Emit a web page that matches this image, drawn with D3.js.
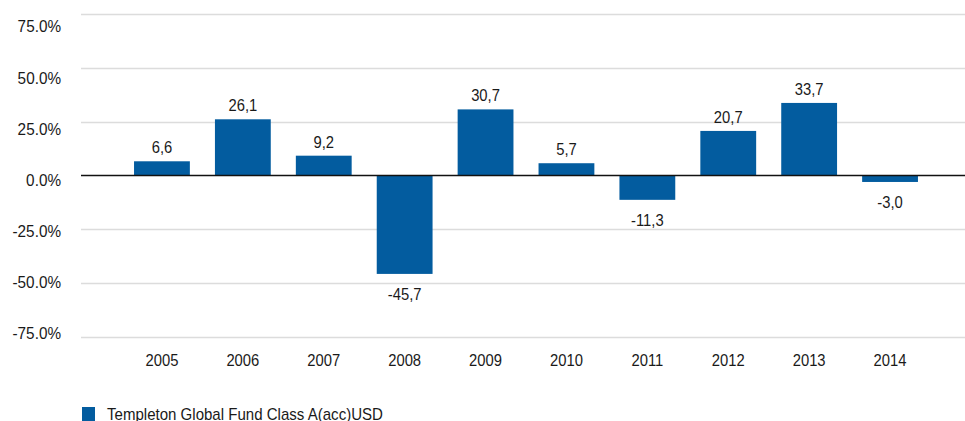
<!DOCTYPE html>
<html><head><meta charset="utf-8">
<script src="https://cdn.jsdelivr.net/npm/d3@7"></script>
<style>
body{margin:0;background:#fff;}
svg{display:block;font-family:"Liberation Sans",Arial,sans-serif;}
</style></head>
<body><svg id="c" width="965" height="421"></svg>
<script>
const years = ["2005","2006","2007","2008","2009","2010","2011","2012","2013","2014"];
const values = [6.6, 26.1, 9.2, -45.7, 30.7, 5.7, -11.3, 20.7, 33.7, -3.0];
const yTicks = [75, 50, 25, 0, -25, -50, -75];
const seriesName = "Templeton Global Fund Class A(acc)USD";

const svg = d3.select("#c");
const color = "#035c9f";
const textColor = "#1a1a1a";
const fs = "17px";
const y = d3.scaleLinear().domain([-75, 75]).range([337, 14]);
const yLabel = d3.scaleLinear().domain([-75, 75]).range([333, 26]);
const x = d3.scaleBand().domain(years).range([121.5, 930.5]).paddingInner(0.31).paddingOuter(0.155);

function condense(sel, k) {
  sel.each(function () {
    const w = this.getComputedTextLength();
    d3.select(this).attr("textLength", w * k).attr("lengthAdjust", "spacingAndGlyphs");
  });
}

// gridlines
svg.append("g").selectAll("line").data(yTicks.filter(d => d !== 0)).join("line")
  .attr("x1", 81).attr("x2", 965)
  .attr("y1", d => Math.round(y(d)) + 0.5).attr("y2", d => Math.round(y(d)) + 0.5)
  .attr("stroke", "#dcdcdc").attr("stroke-width", 1.5);

// y labels
const yAxis = d3.axisLeft(yLabel).tickValues(yTicks).tickSize(0).tickPadding(0)
  .tickFormat(d => d.toFixed(1) + "%");
const ga = svg.append("g").attr("transform", "translate(61,0)").call(yAxis);
ga.select(".domain").remove();
ga.selectAll("text").attr("font-size", fs).attr("fill", textColor).attr("dy", "0.35em")
  .attr("font-family", "Liberation Sans, Arial, sans-serif").call(condense, 0.9);

// bars
svg.append("g").selectAll("rect").data(values).join("rect")
  .attr("x", (d, i) => x(years[i]))
  .attr("width", x.bandwidth())
  .attr("y", d => y(Math.max(0, d)))
  .attr("height", d => Math.abs(y(d) - y(0)))
  .attr("fill", color);

// zero line
svg.append("line").attr("x1", 81).attr("x2", 965)
  .attr("y1", y(0)).attr("y2", y(0)).attr("stroke", "#111").attr("stroke-width", 1.3);

// value labels
svg.append("g").selectAll("text").data(values).join("text")
  .attr("x", (d, i) => x(years[i]) + x.bandwidth() / 2)
  .attr("y", d => d >= 0 ? y(d) - 8 : y(d) + 26)
  .attr("text-anchor", "middle").attr("font-size", fs).attr("fill", textColor)
  .text(d => d.toFixed(1).replace(".", ","))
  .call(condense, 0.87);

// x labels
const xAxis = d3.axisBottom(x).tickSize(0).tickPadding(0);
const gx = svg.append("g").attr("transform", "translate(0,366)").call(xAxis);
gx.select(".domain").remove();
gx.selectAll("text").attr("font-size", fs).attr("fill", textColor).attr("dy", 0)
  .attr("font-family", "Liberation Sans, Arial, sans-serif").call(condense, 0.87);

// legend
const lg = svg.append("g");
lg.append("rect").attr("x", 82).attr("y", 407).attr("width", 13).attr("height", 14).attr("fill", color);
lg.append("text").attr("x", 107).attr("y", 420).attr("font-size", fs).attr("fill", textColor)
  .text(seriesName).call(condense, 0.885);
</script></body></html>
